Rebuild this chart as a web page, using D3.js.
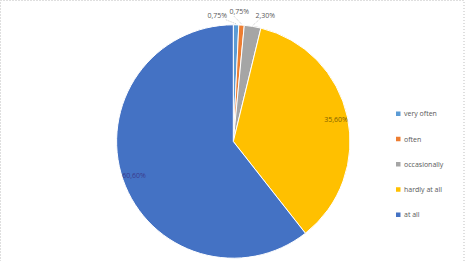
<!DOCTYPE html>
<meta charset="utf-8">
<script src="https://d3js.org/d3.v7.min.js"></script>
<style>
  body { margin: 0; background: #fff; }
  text { font-family: "Open Sans", "Noto Sans", sans-serif; }
</style>
<div id="my_dataviz"></div>
<script>
  // data
  const categories = ["very often", "often", "occasionally", "hardly at all", "at all"];
  const values = [0.75, 0.75, 2.30, 35.60, 60.60];
  const labels = ["0,75%", "0,75%", "2,30%", "35,60%", "60,60%"];
  const colors = ["#5B9BD5", "#ED7D31", "#A5A5A5", "#FFC000", "#4472C4"];

  const width = 466, height = 261;
  const cx = 233.3, cy = 141.5, radius = 116.7;

  const svg = d3.select("#my_dataviz")
    .append("svg")
    .attr("width", width)
    .attr("height", height);

  // dotted frame
  svg.append("rect")
    .attr("x", 0.5).attr("y", 0.5)
    .attr("width", 463.5).attr("height", 270)
    .attr("fill", "none")
    .attr("stroke", "#bfbfbf")
    .attr("stroke-dasharray", "1,2");

  const data = categories.map((c, i) => ({ cat: c, value: values[i], label: labels[i], color: colors[i] }));

  const pie = d3.pie().sort(null).value(d => d.value);
  const arcs = pie(data);
  const arc = d3.arc().innerRadius(0).outerRadius(radius);

  const g = svg.append("g").attr("transform", `translate(${cx},${cy})`);

  g.selectAll("path")
    .data(arcs)
    .join("path")
    .attr("d", arc)
    .attr("fill", d => d.data.color)
    .attr("stroke", "#fff")
    .attr("stroke-width", 1);

  // label positions (outside for small slices, inside for big ones)
  const outLabel = [[-16, -124], [6, -128], [32, -124]];
  const inArc = d3.arc().innerRadius(radius * 0.9).outerRadius(radius * 0.9);

  arcs.forEach((a, i) => {
    if (i < 3) {
      const [lx, ly] = outLabel[i];
      const p = d3.arc().innerRadius(radius + 1).outerRadius(radius + 1).centroid(a);
      g.append("path")
        .attr("d", `M${p[0]},${p[1]} L${lx + (i === 0 ? 8 : -6)},${ly + 2}`)
        .attr("stroke", "#a6a6a6")
        .attr("stroke-width", 0.6)
        .attr("stroke-dasharray", "1,1")
        .attr("fill", "none");
      g.append("text")
        .attr("x", lx)
        .attr("y", ly)
        .attr("text-anchor", "middle")
        .attr("font-size", 7)
        .attr("fill", "#595959")
        .text(a.data.label);
    } else {
      const c = inArc.centroid(a);
      g.append("text")
        .attr("x", c[0])
        .attr("y", c[1])
        .attr("text-anchor", "middle")
        .attr("dy", "0.35em")
        .attr("font-size", 7)
        .attr("fill", i === 4 ? "#3b3b8f" : "#7f6000")
        .text(a.data.label);
    }
  });

  // legend
  const legend = svg.append("g").attr("transform", "translate(396,114)");
  const rowY = d3.scalePoint().domain(categories).range([0, 101]);
  const item = legend.selectAll("g")
    .data(data)
    .join("g")
    .attr("transform", d => `translate(0,${rowY(d.cat)})`);
  item.append("rect")
    .attr("x", 0).attr("y", -2.5)
    .attr("width", 4.5).attr("height", 4.5)
    .attr("fill", d => d.color);
  item.append("text")
    .attr("x", 8)
    .attr("y", 0)
    .attr("dy", "0.35em")
    .attr("font-size", 7)
    .attr("fill", "#595959")
    .text(d => d.cat);
</script>
